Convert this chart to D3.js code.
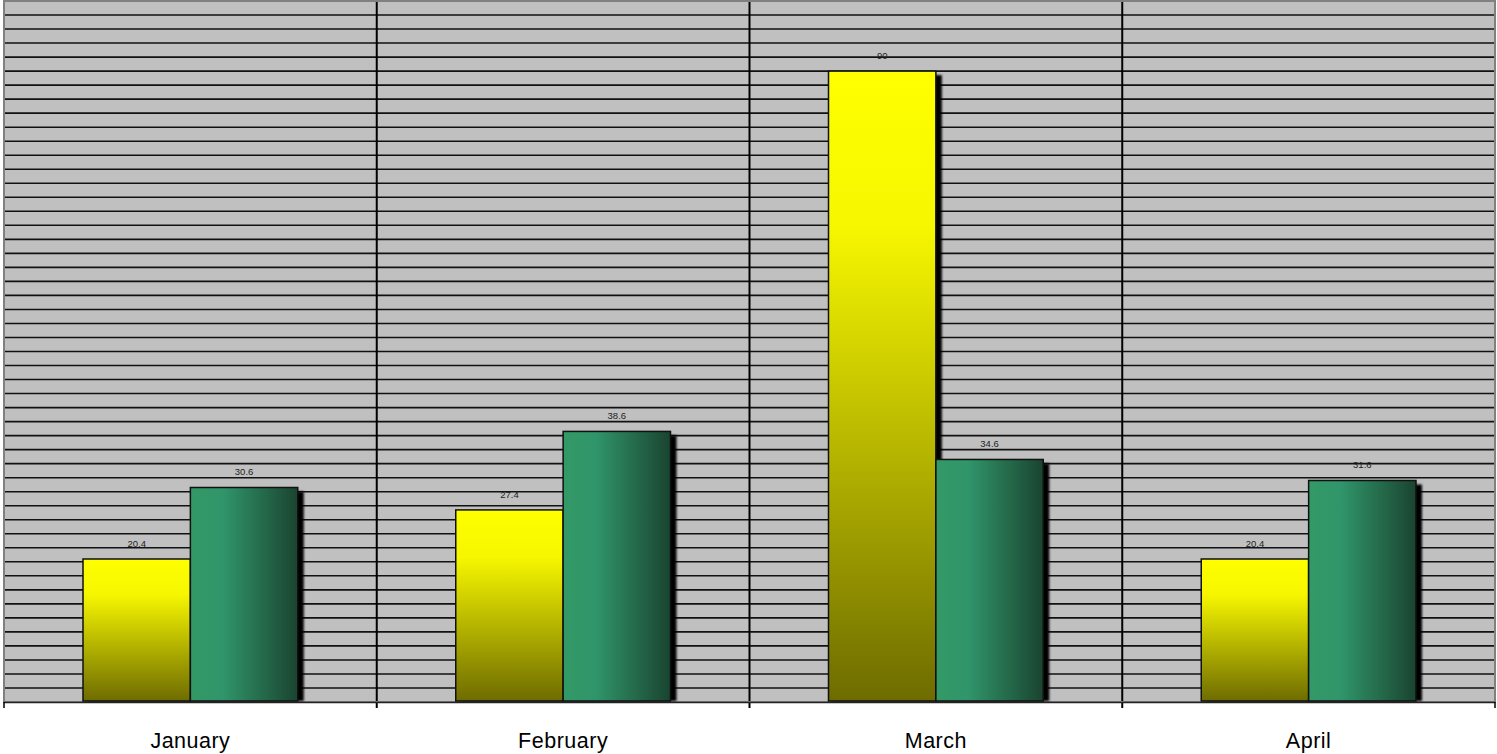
<!DOCTYPE html>
<html>
<head>
<meta charset="utf-8">
<script src="https://cdn.jsdelivr.net/npm/d3@7"></script>
<style>
  html, body { margin: 0; padding: 0; background: #ffffff; }
  svg { display: block; }
</style>
</head>
<body>
<svg id="chart" width="1497" height="754"></svg>
<script>
// Monthly values for the two series
const categories = ["January", "February", "March", "April"];
const seriesYellow = [20.4, 27.4, 90, 20.4];
const seriesGreen = [30.6, 38.6, 34.6, 31.6];
const yMax = 100;
const gridStep = 2;

const svg = d3.select("#chart");
const plot = { left: 4, right: 1495, top: 1, bottom: 702 };

const x0 = d3.scaleBand()
  .domain(categories)
  .range([plot.left, plot.right])
  .paddingInner(0)
  .paddingOuter(0);

const outerGap = 79;
const x1 = d3.scaleBand()
  .domain([0, 1])
  .range([outerGap, x0.bandwidth() - outerGap])
  .padding(0);

const y = d3.scaleLinear().domain([0, yMax]).range([plot.bottom, plot.top]);

const defs = svg.append("defs");

// Yellow: bright at the top fading to olive at the base
const gY = defs.append("linearGradient")
  .attr("id", "gradYellow").attr("x1", 0).attr("y1", 0).attr("x2", 0).attr("y2", 1);
gY.append("stop").attr("offset", "0%").attr("stop-color", "#ffff00");
gY.append("stop").attr("offset", "25%").attr("stop-color", "#f6f600");
gY.append("stop").attr("offset", "100%").attr("stop-color", "#6e6c00");

// Green: light on the left, dark on the right
const gG = defs.append("linearGradient")
  .attr("id", "gradGreen").attr("x1", 0).attr("y1", 0).attr("x2", 1).attr("y2", 0);
gG.append("stop").attr("offset", "0%").attr("stop-color", "#339966");
gG.append("stop").attr("offset", "30%").attr("stop-color", "#30956a");
gG.append("stop").attr("offset", "100%").attr("stop-color", "#1a4430");

defs.append("filter").attr("id", "soft")
  .attr("x", "-10%").attr("y", "-10%").attr("width", "120%").attr("height", "120%")
  .append("feGaussianBlur").attr("stdDeviation", 1.2);

// Plot background
svg.append("rect")
  .attr("x", plot.left).attr("y", plot.top)
  .attr("width", plot.right - plot.left).attr("height", plot.bottom - plot.top)
  .attr("fill", "#c0c0c0");

// Horizontal gridlines
const gridVals = d3.range(gridStep, yMax, gridStep);
svg.append("g").selectAll("line").data(gridVals).join("line")
  .attr("x1", plot.left).attr("x2", plot.right)
  .attr("y1", d => y(d)).attr("y2", d => y(d))
  .attr("stroke", "#111").attr("stroke-width", 1.6);

// Category separators
svg.append("g").selectAll("line").data(categories.slice(1)).join("line")
  .attr("x1", d => x0(d)).attr("x2", d => x0(d))
  .attr("y1", plot.top).attr("y2", plot.bottom + 6)
  .attr("stroke", "#000").attr("stroke-width", 2);

// Plot border
svg.append("rect")
  .attr("x", plot.left).attr("y", plot.top)
  .attr("width", plot.right - plot.left).attr("height", plot.bottom - plot.top)
  .attr("fill", "none").attr("stroke", "#808080").attr("stroke-width", 2);

// Bars
const rows = categories.map((c, i) => ({ cat: c, vals: [seriesYellow[i], seriesGreen[i]] }));
const fills = ["url(#gradYellow)", "url(#gradGreen)"];

const groups = svg.append("g").selectAll("g").data(rows).join("g")
  .attr("transform", d => `translate(${x0(d.cat)},0)`);

// drop shadows
groups.append("g").selectAll("rect")
  .data(d => d.vals.map((v, k) => ({ v, k })))
  .join("rect")
  .attr("x", d => x1(d.k) + 5)
  .attr("y", d => y(d.v) + 4)
  .attr("width", x1.bandwidth() + 1)
  .attr("height", d => Math.max(0, plot.bottom - 1 - (y(d.v) + 4)))
  .attr("fill", "#000")
  .attr("filter", "url(#soft)");

groups.selectAll("rect.bar")
  .data(d => d.vals.map((v, k) => ({ v, k })))
  .join("rect")
  .attr("class", "bar")
  .attr("x", d => x1(d.k))
  .attr("y", d => y(d.v))
  .attr("width", x1.bandwidth())
  .attr("height", d => plot.bottom - 1 - y(d.v))
  .attr("fill", d => fills[d.k])
  .attr("stroke", "#111")
  .attr("stroke-width", 1.5);

// Value labels
groups.selectAll("text.val")
  .data(d => d.vals.map((v, k) => ({ v, k })))
  .join("text")
  .attr("class", "val")
  .attr("x", d => x1(d.k) + x1.bandwidth() / 2)
  .attr("y", d => y(d.v) - 12)
  .attr("text-anchor", "middle")
  .attr("font-family", "Liberation Sans, Arial, sans-serif")
  .attr("font-size", 9.5)
  .attr("fill", "#222")
  .text(d => d.v);

// Category axis
const axis = svg.append("g").attr("transform", `translate(0,${plot.bottom})`);
axis.append("line")
  .attr("x1", plot.left).attr("x2", plot.right)
  .attr("y1", 0.5).attr("y2", 0.5)
  .attr("stroke", "#222").attr("stroke-width", 1.5);
axis.selectAll("line.tick")
  .data([plot.left, plot.right])
  .join("line").attr("class", "tick")
  .attr("x1", d => d).attr("x2", d => d)
  .attr("y1", 0).attr("y2", 6)
  .attr("stroke", "#000").attr("stroke-width", 1.5);
axis.selectAll("text")
  .data(categories).join("text")
  .attr("x", d => x0(d) + x0.bandwidth() / 2)
  .attr("y", 46)
  .attr("text-anchor", "middle")
  .attr("font-family", "Liberation Sans, Arial, sans-serif")
  .attr("font-size", 21.5)
  .attr("letter-spacing", 0.5)
  .attr("fill", "#000")
  .text(d => d);
</script>
</body>
</html>
